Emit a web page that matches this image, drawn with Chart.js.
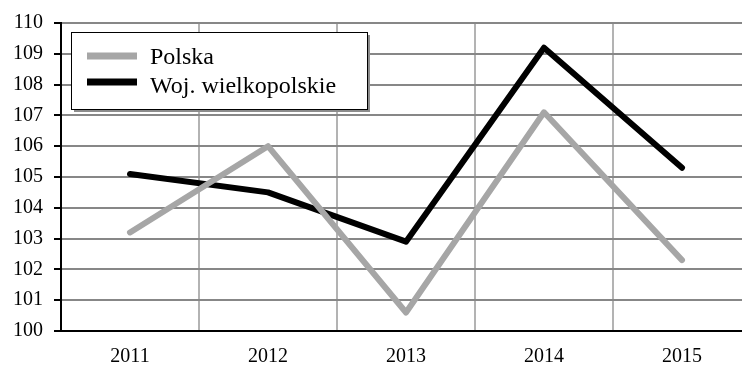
<!DOCTYPE html>
<html>
<head>
<meta charset="utf-8">
<script src="https://cdn.jsdelivr.net/npm/chart.js@4/dist/chart.umd.min.js"></script>
<style>
    html, body { margin: 0; padding: 0; background: #fff; overflow: hidden; }
    #wrap { width: 752px; height: 367px; }
</style>
</head>
<body>
<div id="wrap"><canvas id="chart"></canvas></div>
<script>
const years = ['2011', '2012', '2013', '2014', '2015'];
const polska = [103.2, 106.0, 100.6, 107.1, 102.3];
const wielkopolskie = [105.1, 104.5, 102.9, 109.2, 105.3];
const yMin = 100;
const yMax = 110;

const serif = '"Liberation Serif", "Times New Roman", serif';

// legend box drawn inside the plot area, Excel style
const boxLegend = {
    id: 'boxLegend',
    afterDatasetsDraw(chart) {
        const { ctx, chartArea } = chart;
        const x = chartArea.left + 10;
        const y = chartArea.top + 9;
        const w = 296;
        const h = 77;
        ctx.save();
        ctx.fillStyle = '#8c8c8c';
        ctx.fillRect(x + 3, y + 3, w, h);
        ctx.fillStyle = '#fff';
        ctx.fillRect(x, y, w, h);
        ctx.strokeStyle = '#000';
        ctx.lineWidth = 1;
        ctx.strokeRect(x + 0.5, y + 0.5, w, h);

        ctx.font = '24px ' + serif;
        ctx.textBaseline = 'alphabetic';
        ctx.textAlign = 'left';
        chart.data.datasets.forEach((ds, i) => {
            const cy = y + 24 + i * 26;
            ctx.strokeStyle = ds.borderColor;
            ctx.lineWidth = 7;
            ctx.lineCap = 'butt';
            ctx.beginPath();
            ctx.moveTo(x + 16, cy);
            ctx.lineTo(x + 66, cy);
            ctx.stroke();
            ctx.fillStyle = '#000';
            ctx.fillText(ds.label, x + 79, cy + 8 + i * 3);
        });
        ctx.restore();
    },
};

new Chart(document.getElementById('chart'), {
    type: 'line',
    data: {
        labels: years,
        datasets: [
            {
                label: 'Polska',
                data: polska,
                borderColor: '#a6a6a6',
                borderWidth: 6,
                pointRadius: 0,
                tension: 0,
                borderCapStyle: 'round',
                borderJoinStyle: 'round',
            },
            {
                label: 'Woj. wielkopolskie',
                data: wielkopolskie,
                borderColor: '#000',
                borderWidth: 6,
                pointRadius: 0,
                tension: 0,
                borderCapStyle: 'round',
                borderJoinStyle: 'round',
            },
        ],
    },
    options: {
        responsive: true,
        maintainAspectRatio: false,
        animation: false,
        layout: { padding: { top: 22, right: 1, left: 0, bottom: 0 } },
        plugins: {
            legend: { display: false },
            tooltip: { enabled: false },
        },
        scales: {
            x: {
                offset: true,
                grid: { offset: true, color: '#b3b3b3', lineWidth: 2, drawTicks: false },
                border: { color: '#000', width: 2 },
                ticks: {
                    color: '#000',
                    font: { family: serif, size: 20 },
                    padding: 14,
                    maxRotation: 0,
                },
                afterFit(scale) { scale.height = 36; },
            },
            y: {
                min: yMin,
                max: yMax,
                grid: { color: '#878787', lineWidth: 2, tickColor: '#000', tickLength: 7 },
                border: { color: '#000', width: 2 },
                ticks: {
                    stepSize: 1,
                    color: '#000',
                    font: { family: serif, size: 20 },
                    padding: 11,
                },
                afterFit(scale) { scale.width = 61; },
            },
        },
    },
    plugins: [boxLegend],
});
</script>
</body>
</html>
